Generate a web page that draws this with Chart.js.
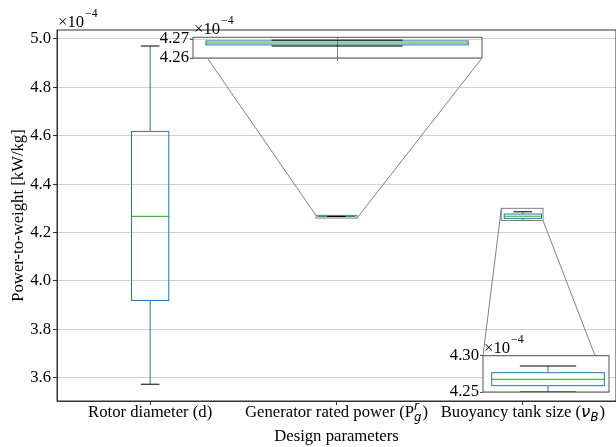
<!DOCTYPE html>
<html>
<head>
<meta charset="utf-8">
<script src="https://cdn.jsdelivr.net/npm/chart.js@4.4.0/dist/chart.umd.min.js"></script>
<style>
  html, body { margin: 0; padding: 0; background: #fff; }
  #wrap { position: relative; width: 616px; height: 447px; }
  #wrap canvas { position: absolute; }
</style>
</head>
<body>
<div id="wrap">
  <canvas id="main" width="616" height="447" style="left:0;top:0"></canvas>
  <canvas id="inset1" width="345" height="60" style="left:145px;top:15px"></canvas>
  <canvas id="inset2" width="191" height="72" style="left:425px;top:332px"></canvas>
</div>
<script>
// box plot stats, in units of 1e-4 kW/kg
const categories  = ['Rotor diameter (d)', 'Generator rated power (P_g^r)', 'Buoyancy tank size (ν_B)'];
const whiskerLow  = [3.573, 4.2663, 4.2500];
const q1          = [3.919, 4.2669, 4.2587];
const medians     = [4.267, 4.2679, 4.2675];
const q3          = [4.618, 4.2690, 4.2766];
const whiskerHigh = [4.971, 4.2694, 4.2858];

const yTicks      = [3.6, 3.8, 4.0, 4.2, 4.4, 4.6, 4.8, 5.0];
const inset1Ticks = [4.26, 4.27];
const inset2Ticks = [4.25, 4.30];
// zoomed windows [xmin, xmax, ymin, ymax]
const inset1View  = [0.8901, 1.1105, 4.26, 4.2709];
const inset2View  = [1.8845, 2.1083, 4.25, 4.30];

const SERIF = "'Liberation Serif', 'Times New Roman', serif";
const SANS = "'DejaVu Sans', sans-serif";
const FS = 16.7;
const BLUE = '#1f77b4', GREEN = '#2ca02c';
const BOX_HALF = 0.1, CAP_HALF = 0.05;

Chart.defaults.font.family = SERIF;
Chart.defaults.font.size = FS;
Chart.defaults.color = '#000';

function line(ctx, x0, y0, x1, y1, col) {
  ctx.strokeStyle = col;
  ctx.beginPath();
  ctx.moveTo(x0, y0);
  ctx.lineTo(x1, y1);
  ctx.stroke();
}

// draws every box, whisker, cap and median through the chart's scales
const boxPlugin = {
  id: 'boxes',
  afterDatasetsDraw(chart) {
    const {ctx, chartArea: a, scales: {x, y}} = chart;
    ctx.save();
    ctx.beginPath();
    ctx.rect(a.left, a.top, a.width, a.height);
    ctx.clip();
    ctx.lineWidth = 1;
    categories.forEach((c, i) => {
      const xc = x.getPixelForValue(i);
      const xl = x.getPixelForValue(i - BOX_HALF), xr = x.getPixelForValue(i + BOX_HALF);
      const cl = x.getPixelForValue(i - CAP_HALF), cr = x.getPixelForValue(i + CAP_HALF);
      const yLo = y.getPixelForValue(whiskerLow[i]), yHi = y.getPixelForValue(whiskerHigh[i]);
      const yQ1 = y.getPixelForValue(q1[i]), yQ3 = y.getPixelForValue(q3[i]);
      const yMed = y.getPixelForValue(medians[i]);
      line(ctx, xc, yLo, xc, yQ1, BLUE);
      line(ctx, xc, yQ3, xc, yHi, BLUE);
      ctx.strokeStyle = BLUE;
      ctx.strokeRect(xl, yQ3, xr - xl, yQ1 - yQ3);
      line(ctx, xl, yMed, xr, yMed, GREEN);
      line(ctx, cl, yLo, cr, yLo, '#000');
      line(ctx, cl, yHi, cr, yHi, '#000');
    });
    ctx.restore();
  }
};

function drawOffset(ctx, a) {
  ctx.save();
  ctx.fillStyle = '#000';
  ctx.textAlign = 'left';
  ctx.textBaseline = 'alphabetic';
  ctx.font = FS + 'px ' + SERIF;
  ctx.fillText('×10', a.left + 1, a.top - 3);
  const w = ctx.measureText('×10').width;
  ctx.font = '11.7px ' + SERIF;
  ctx.fillText('−4', a.left + 2 + w, a.top - 13);
  ctx.restore();
}

// tick label with a small sub/superscript part, e.g. P_g^r
function drawLabel(ctx, text, cx, base) {
  const m = text.match(/(.)_(\w)(?:\^(\w))?/);
  const rm = FS + 'px ' + SERIF;
  const parts = [];
  if (!m) {
    parts.push({t: text, f: rm});
  } else {
    parts.push({t: text.slice(0, m.index), f: rm});
    parts.push({t: m[1], f: /[A-Za-z]/.test(m[1]) ? rm : 'italic ' + FS + 'px ' + SANS});
    parts.push({sub: m[2], sup: m[3], f: 'italic 11.7px ' + SANS});
    parts.push({t: text.slice(m.index + m[0].length), f: rm});
  }
  let total = 0;
  parts.forEach(p => {
    ctx.font = p.f;
    if (p.t !== undefined) p.w = ctx.measureText(p.t).width;
    else p.w = Math.max(ctx.measureText(p.sub).width, p.sup ? ctx.measureText(p.sup).width : 0) + 1;
    total += p.w;
  });
  let xx = cx - total / 2;
  ctx.textAlign = 'left';
  ctx.textBaseline = 'alphabetic';
  ctx.fillStyle = '#000';
  parts.forEach(p => {
    ctx.font = p.f;
    if (p.t !== undefined) {
      ctx.fillText(p.t, xx, base);
    } else {
      ctx.fillText(p.sub, xx, base + 4);
      if (p.sup) ctx.fillText(p.sup, xx, base - 7);
    }
    xx += p.w;
  });
}

const insetBg = {
  id: 'insetBg',
  beforeDraw(chart) {
    const {ctx, chartArea: a} = chart;
    ctx.save();
    ctx.fillStyle = '#fff';
    ctx.fillRect(a.left, a.top, a.width, a.height);
    ctx.restore();
  },
  afterDraw(chart) {
    const {ctx, chartArea: a} = chart;
    ctx.save();
    ctx.strokeStyle = '#555';
    ctx.lineWidth = 1;
    ctx.strokeRect(a.left, a.top, a.width, a.height);
    ctx.restore();
    drawOffset(ctx, a);
  }
};

function makeInset(id, view, ticks, digits, yWidth, xHeight, padding, centerLine) {
  return new Chart(document.getElementById(id), {
    type: 'scatter',
    data: { datasets: [{ data: categories.map((c, i) => ({x: i, y: medians[i]})), pointRadius: 0 }] },
    options: {
      responsive: false,
      animation: false,
      events: [],
      layout: { padding: padding },
      plugins: { legend: { display: false }, tooltip: { enabled: false } },
      scales: {
        x: {
          type: 'linear', min: view[0], max: view[1],
          afterBuildTicks: s => { s.ticks = centerLine ? [{value: Math.round((view[0] + view[1]) / 2)}] : []; },
          afterFit: s => { s.height = xHeight; },
          ticks: { display: false },
          grid: { color: '#666', lineWidth: 0.8, tickLength: 3, tickColor: '#555' },
          border: { display: false }
        },
        y: {
          min: view[2], max: view[3],
          afterBuildTicks: s => { s.ticks = ticks.map(v => ({value: v})); },
          afterFit: s => { s.width = yWidth; },
          ticks: { callback: v => v.toFixed(digits), padding: 1, autoSkip: false },
          grid: { color: '#d0d0d0', tickColor: '#555', tickLength: 3 },
          border: { display: false }
        }
      }
    },
    plugins: [insetBg, boxPlugin]
  });
}

const inset1 = makeInset('inset1', inset1View, inset1Ticks, 2, 48, 5,
  {top: 22.3, right: 8, bottom: 12, left: 0}, true);
const inset2 = makeInset('inset2', inset2View, inset2Ticks, 2, 58, 4,
  {top: 23.7, right: 7, bottom: 8, left: 0}, false);
const insets = [{chart: inset1, view: inset1View}, {chart: inset2, view: inset2View}];

const mainDecor = {
  id: 'mainDecor',
  afterDraw(chart) {
    const {ctx, chartArea: a, scales: {x, y}} = chart;
    ctx.save();
    ctx.lineWidth = 1;
    ctx.strokeStyle = '#333';
    ctx.strokeRect(a.left, a.top, a.width, a.height);
    // zoom indicators and connector lines
    insets.forEach(({chart: ic, view}) => {
      const rx0 = x.getPixelForValue(view[0]), rx1 = x.getPixelForValue(view[1]);
      const ry0 = y.getPixelForValue(view[3]), ry1 = y.getPixelForValue(view[2]);
      ctx.strokeStyle = '#808080';
      ctx.strokeRect(rx0, ry0, rx1 - rx0, ry1 - ry0);
      const ia = ic.chartArea, ox = ic.canvas.offsetLeft, oy = ic.canvas.offsetTop;
      line(ctx, rx0, ry0, ox + ia.left, oy + ia.top, '#808080');
      line(ctx, rx1, ry1, ox + ia.right, oy + ia.bottom, '#808080');
    });
    categories.forEach((c, i) => drawLabel(ctx, c, x.getPixelForValue(i), 417));
    ctx.restore();
    drawOffset(ctx, a);
  }
};

new Chart(document.getElementById('main'), {
  type: 'scatter',
  data: { datasets: [{ data: categories.map((c, i) => ({x: i, y: medians[i]})), pointRadius: 0 }] },
  options: {
    responsive: false,
    animation: false,
    events: [],
    layout: { padding: {top: 30, right: 0, bottom: 0, left: 0} },
    plugins: { legend: { display: false }, tooltip: { enabled: false } },
    scales: {
      x: {
        type: 'linear', min: -0.5, max: 2.5,
        afterBuildTicks: s => { s.ticks = categories.map((c, i) => ({value: i})); },
        afterFit: s => { s.height = 46; },
        ticks: { display: false },
        grid: { drawOnChartArea: false, tickLength: 4, tickColor: '#333' },
        border: { color: '#333' },
        title: { display: true, text: 'Design parameters', padding: {top: 0, bottom: 0} }
      },
      y: {
        min: 3.5037, max: 5.0372,
        afterBuildTicks: s => { s.ticks = yTicks.map(v => ({value: v})); },
        afterFit: s => { s.width = 57; },
        ticks: { callback: v => v.toFixed(1), padding: 2 },
        grid: { color: '#d0d0d0', tickColor: '#333', tickLength: 4 },
        border: { color: '#333' },
        title: { display: true, text: 'Power-to-weight [kW/kg]', padding: {top: 9} }
      }
    }
  },
  plugins: [boxPlugin, mainDecor]
});
</script>
</body>
</html>
